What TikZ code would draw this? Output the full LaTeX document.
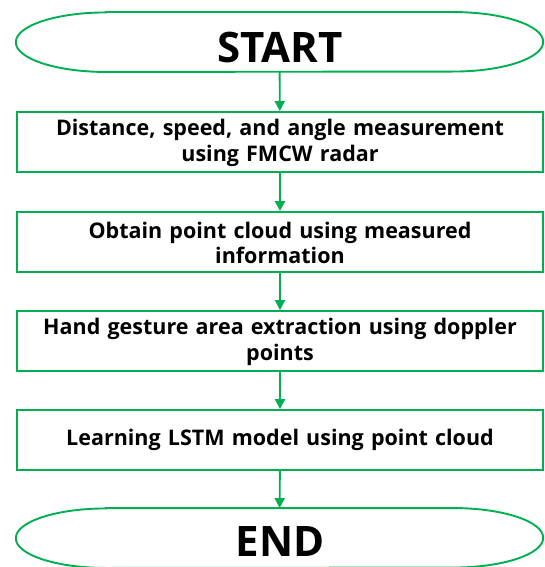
\documentclass[tikz,border=0pt]{standalone}
\usepackage{fontspec}
\setmainfont{Open Sans}
\usetikzlibrary{arrows.meta}
\definecolor{flowgreen}{RGB}{0,176,80}
\tikzset{
  stepbox/.style={draw=flowgreen, line width=1.9pt, fill=white, minimum width=526pt, minimum height=60pt, inner sep=0pt, align=center, font=\bfseries\fontsize{21.5}{25.5}\selectfont, text width=520pt},
  termnode/.style={minimum width=527pt, minimum height=59.5pt, inner sep=0pt, font=\bfseries\fontsize{42}{50}\selectfont},
  termline/.style={draw=flowgreen, line width=1.9pt, fill=white},
  flow/.style={draw=flowgreen, line width=1.9pt, -{Triangle[length=10pt,width=10pt]}}
}
\begin{document}
\begin{tikzpicture}[x=1pt,y=-1pt]
\useasboundingbox (0,0) rectangle (544,567);
% terminator outlines
\newcommand{\termshape}[1]{%
  \draw[termline] ([xshift=90pt]#1.north west) -- ([xshift=-90pt]#1.north east)
    arc[start angle=90,end angle=-90,x radius=90pt,y radius=29.75pt]
    -- ([xshift=90pt]#1.south west)
    arc[start angle=270,end angle=90,x radius=90pt,y radius=29.75pt] -- cycle;}
\node[termnode] (start) at (279.5,42) {};
\termshape{start}
\node[termnode] at (280,47) {START};
\node[stepbox] (b1) at (280,142) {};
\node[stepbox] (b2) at (280,242) {};
\node[stepbox] (b3) at (280,341) {};
\node[stepbox] (b4) at (280,440) {};
\node[stepbox, draw=none, fill=none] at (280,143) {Distance, speed, and angle measurement\\using FMCW radar};
\node[stepbox, draw=none, fill=none] at (280,243) {Obtain point cloud using measured\\information};
\node[stepbox, draw=none, fill=none] at (280,342) {Hand gesture area extraction using doppler\\points};
\node[stepbox, draw=none, fill=none] at (280,440) {Learning LSTM model using point cloud};
\node[termnode] (end) at (279.5,538) {};
\termshape{end}
\node[termnode] at (280,542) {END};
\draw[flow] (start) -- (b1);
\draw[flow] (b1) -- (b2);
\draw[flow] (b2) -- (b3);
\draw[flow] (b3) -- (b4);
\draw[flow] (b4) -- (end);
\end{tikzpicture}
\end{document}
